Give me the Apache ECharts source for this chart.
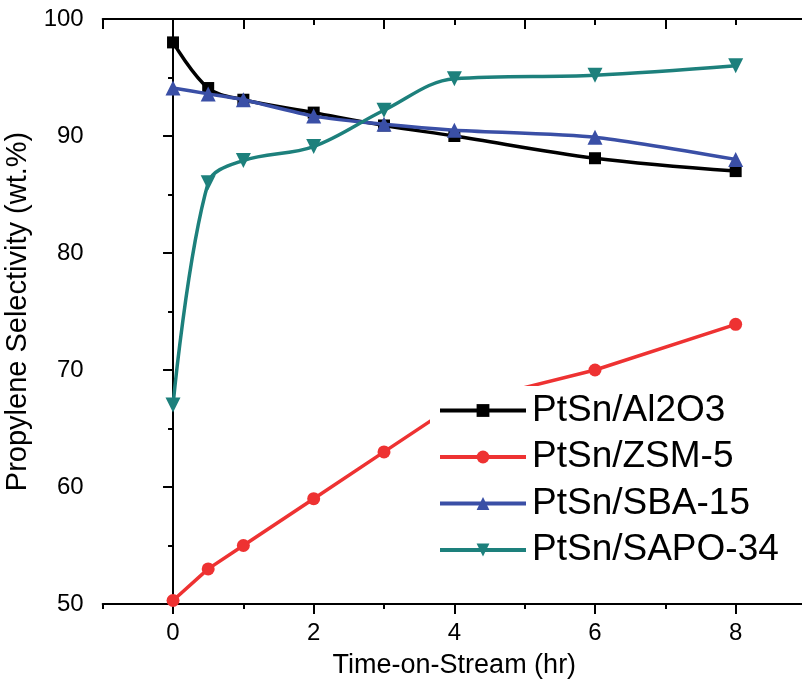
<!DOCTYPE html>
<html>
<head>
<meta charset="utf-8">
<script src="https://cdn.jsdelivr.net/npm/echarts@6/dist/echarts.min.js"></script>
<style>html,body{margin:0;padding:0;background:#fff}#c{width:802px;height:690px}</style>
</head>
<body>
<div id="c"></div>
<script>
var timeHr = [0, 0.5, 1, 2, 3, 4, 6, 8];
var al2o3 = [98.0, 94.1, 93.1, 92.0, 90.9, 90.0, 88.1, 87.0];
var zsm5 = [50.3, 53.0, 55.0, 59.0, 63.0, 67.0, 70.0, 73.9];
var sba15 = [94.1, 93.6, 93.1, 91.7, 91.0, 90.5, 89.9, 88.0];
var sapo34 = [67.0, 86.0, 87.9, 89.1, 92.2, 94.9, 95.2, 96.0];
var seriesNames = ['PtSn/Al2O3', 'PtSn/ZSM-5', 'PtSn/SBA-15', 'PtSn/SAPO-34'];
var xTickLabels = [0, 2, 4, 6, 8];
var yTickLabels = [50, 60, 70, 80, 90, 100];

function pairs(ys) { return timeHr.map(function (t, i) { return [t, ys[i]]; }); }

var FONT = '"Liberation Sans", Arial, sans-serif';
var axisLine = { show: true, lineStyle: { color: '#000', width: 2 } };

var chart = echarts.init(document.getElementById('c'), null, { renderer: 'canvas' });
chart.setOption({
  animation: false,
  backgroundColor: '#fff',
  textStyle: { fontFamily: FONT },
  grid: { left: 102.7, top: 19, width: 703.3, height: 585, containLabel: false, outerBoundsMode: 'none' },
  xAxis: [
    {
      type: 'value', position: 'bottom', min: -1, max: 9, interval: 1,
      name: 'Time-on-Stream (hr)', nameLocation: 'middle', nameGap: 48,
      nameTextStyle: { fontSize: 27, color: '#000', fontFamily: FONT },
      axisLine: axisLine,
      axisTick: { show: true, length: 5, lineStyle: { color: '#000', width: 2 } },
      axisLabel: {
        fontSize: 24, color: '#000', margin: 17, fontFamily: FONT,
        formatter: function (v) { return xTickLabels.indexOf(v) >= 0 ? String(v) : ''; }
      },
      splitLine: { show: false }
    },
    {
      type: 'value', position: 'bottom', min: -1, max: 9, interval: 2,
      axisLine: { show: false },
      axisTick: { show: false },
      minorTick: { show: true, splitNumber: 2, length: 10, lineStyle: { color: '#000', width: 2 } },
      axisLabel: { show: false },
      splitLine: { show: false }
    },
    {
      type: 'value', position: 'top', min: -1, max: 9, interval: 2,
      axisLine: axisLine,
      axisTick: { show: true, inside: true, length: 10, lineStyle: { color: '#000', width: 2 } },
      minorTick: { show: true, splitNumber: 2, length: 6, lineStyle: { color: '#000', width: 2 } },
      axisLabel: { show: false },
      splitLine: { show: false }
    }
  ],
  yAxis: [
    {
      type: 'value', position: 'left', min: 50, max: 100, interval: 10,
      name: 'Propylene Selectivity (wt.%)', nameLocation: 'middle', nameGap: 63,
      nameTextStyle: { fontSize: 29, color: '#000', fontFamily: FONT },
      axisLine: axisLine,
      axisTick: { show: true, length: 10, lineStyle: { color: '#000', width: 2 } },
      minorTick: { show: true, splitNumber: 2, length: 5, lineStyle: { color: '#000', width: 2 } },
      axisLabel: {
        fontSize: 24, color: '#000', margin: 19, fontFamily: FONT,
        formatter: function (v) { return yTickLabels.indexOf(v) >= 0 ? String(v) : ''; }
      },
      splitLine: { show: false }
    },
    {
      type: 'value', position: 'right', min: 50, max: 100, interval: 10,
      axisLine: axisLine,
      axisTick: { show: true, inside: true, length: 10, lineStyle: { color: '#000', width: 2 } },
      minorTick: { show: true, splitNumber: 2, length: 5, lineStyle: { color: '#000', width: 2 } },
      axisLabel: { show: false },
      splitLine: { show: false }
    }
  ],
  legend: {
    left: 430, top: 386, orient: 'vertical',
    backgroundColor: '#fff',
    padding: [6, 6, 6, 8],
    itemWidth: 86, itemHeight: 16, itemGap: 9.5,
    lineStyle: { width: 4 },
    textStyle: { fontSize: 37, color: '#000', fontFamily: FONT, padding: [0, 0, 0, 1] },
    data: seriesNames
  },
  series: [
    {
      name: seriesNames[0], type: 'line', data: pairs(al2o3),
      smooth: 0.35,
      symbol: 'rect', symbolSize: 12,
      lineStyle: { color: '#000', width: 3.5 }, itemStyle: { color: '#000' }, z: 2
    },
    {
      name: seriesNames[1], type: 'line', data: pairs(zsm5),
      smooth: false,
      symbol: 'circle', symbolSize: 13,
      lineStyle: { color: '#EE3232', width: 3.5 }, itemStyle: { color: '#EE3232' }, z: 3
    },
    {
      name: seriesNames[2], type: 'line', data: pairs(sba15),
      smooth: 0.2,
      symbol: 'triangle', symbolSize: 15,
      lineStyle: { color: '#3A4FA6', width: 3.5 }, itemStyle: { color: '#3A4FA6' }, z: 4
    },
    {
      name: seriesNames[3], type: 'line', data: pairs(sapo34),
      smooth: 0.35,
      symbol: 'triangle', symbolRotate: 180, symbolSize: 15,
      lineStyle: { color: '#1D807C', width: 3.5 }, itemStyle: { color: '#1D807C' }, z: 5
    }
  ]
});
</script>
</body>
</html>
